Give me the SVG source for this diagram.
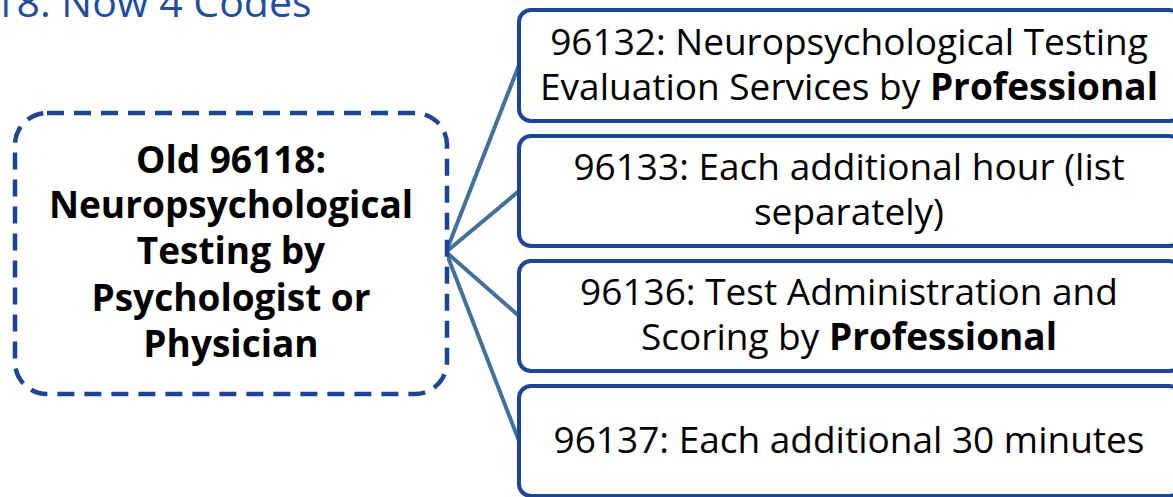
<svg xmlns="http://www.w3.org/2000/svg" width="1173" height="497" viewBox="0 0 1173 497">
<style>
.t{font-family:"Open Sans","Liberation Sans",sans-serif;font-size:37px;fill:#000;text-anchor:middle}
.b{font-weight:bold}
.box{fill:#fff;stroke:#1C4596;stroke-width:4}
.dash{fill:#fff;stroke:#1C4596;stroke-width:4.5;stroke-dasharray:17 10}
.conn{stroke:#41719C;stroke-width:4;fill:none}
.title{font-family:"Open Sans","Liberation Sans",sans-serif;font-size:41px;fill:#1F4E9E}
</style>
<rect width="1173" height="497" fill="#fff"/>
<text class="title" x="-7" y="17">18. Now 4 Codes</text>
<g id="connectors">
<line class="conn" x1="446" y1="252" x2="519" y2="65"/>
<line class="conn" x1="446" y1="252" x2="519" y2="191"/>
<line class="conn" x1="446" y1="252" x2="519" y2="316"/>
<line class="conn" x1="446" y1="252" x2="519" y2="441"/>
</g>
<g id="old">
<rect class="dash" x="15" y="113" width="432" height="281" rx="32"/>
<text class="t b" x="231" y="173">Old 96118:</text>
<text class="t b" x="231" y="218">Neuropsychological</text>
<text class="t b" x="231" y="264">Testing by</text>
<text class="t b" x="231" y="311">Psychologist or</text>
<text class="t b" x="231" y="357">Physician</text>
</g>
<g id="n96132">
<rect class="box" x="519" y="10" width="662" height="111" rx="12"/>
<text class="t" x="849" y="55">96132: Neuropsychological Testing</text>
<text class="t" x="849" y="100">Evaluation Services by <tspan class="b">Professional</tspan></text>
</g>
<g id="n96133">
<rect class="box" x="519" y="136" width="662" height="110" rx="12"/>
<text class="t" x="849" y="180">96133: Each additional hour (list</text>
<text class="t" x="849" y="225">separately)</text>
</g>
<g id="n96136">
<rect class="box" x="519" y="261" width="662" height="110" rx="12"/>
<text class="t" x="849" y="305">96136: Test Administration and</text>
<text class="t" x="849" y="350">Scoring by <tspan class="b">Professional</tspan></text>
</g>
<g id="n96137">
<rect class="box" x="519" y="386" width="662" height="110" rx="12"/>
<text class="t" x="849" y="453">96137: Each additional 30 minutes</text>
</g>
</svg>
